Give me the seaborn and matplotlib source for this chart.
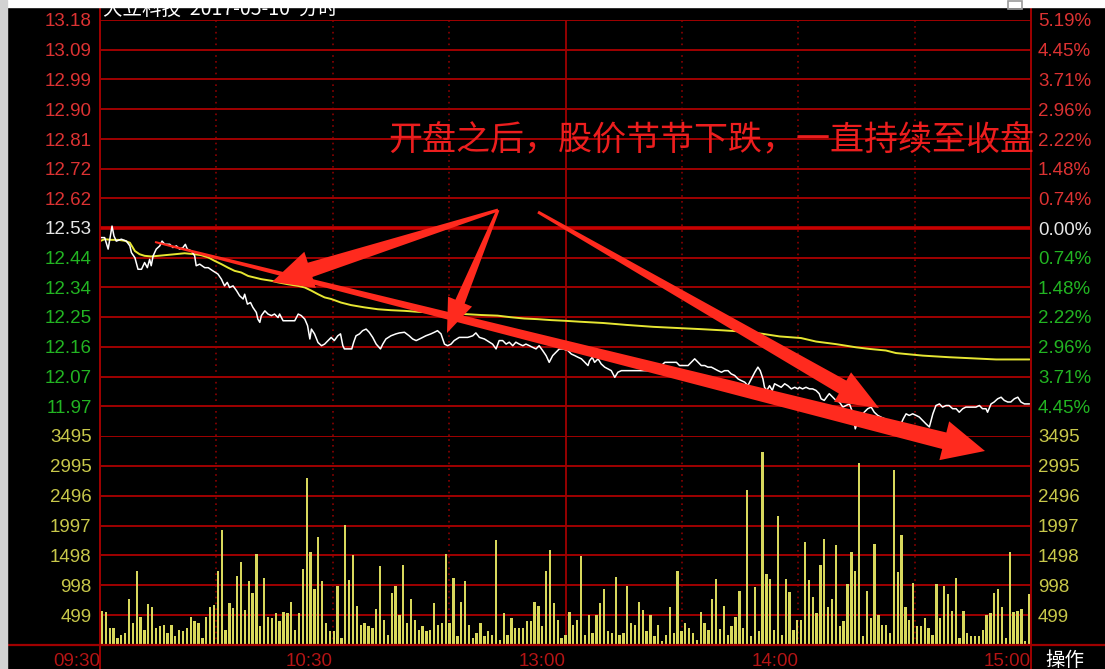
import numpy as np
import pandas as pd
import matplotlib
matplotlib.use("Agg")
import matplotlib.pyplot as plt
import seaborn as sns
from matplotlib.patches import Polygon, Rectangle

# ---------------- data ----------------
prev_close = 12.53

price_time = [0, 1.2, 2.1, 2.8, 3.1, 3.6, 4.2, 5.5, 6.8, 7.7, 8.1, 9.0, 9.8, 10.7, 11.5, 12.2, 12.8, 13.2,
              13.7, 14.5, 15.4, 16.0, 16.7, 18.0, 18.8, 19.7, 20.5, 21.4, 22.0, 22.5, 23.6, 24.4, 24.8, 25.7,
              27.0, 27.9, 29.1, 30.4, 31.3, 32.1, 32.8, 33.4, 34.3, 35.2, 36.0, 36.9, 37.3, 38.0, 38.8, 39.4,
              40.3, 40.7, 41.2, 41.6, 42.5, 43.3, 44.2, 45.0, 45.9, 46.3, 47.2, 50.2, 51.1, 51.9, 52.8, 53.5,
              54.1, 54.5, 55.3, 56.2, 57.1, 57.9, 58.8, 59.6,
              60.4, 61.3, 62.0, 62.6, 63.0, 63.8, 64.9, 65.4, 66.0, 66.9, 67.7, 68.6, 69.4, 70.3, 71.2, 72.3,
              72.9, 73.7, 75.0, 76.3, 77.2, 78.5, 79.7, 80.6, 81.5, 82.7, 84.0, 85.3, 86.2, 87.0, 87.9, 88.8,
              89.6, 90.5, 91.3, 92.6, 93.5, 94.8, 96.1, 96.9, 97.8, 99.1, 100.4, 101.2, 102.1, 102.9, 103.8,
              104.7, 105.5, 106.4, 107.2, 108.1, 109.0, 109.8, 110.7, 111.5, 112.4, 113.2, 114.1, 115.0, 115.8,
              116.7, 117.5, 118.4, 119.3,
              120.6, 121.5, 122.4, 123.2, 124.1, 125.0, 125.8, 126.2, 126.9, 127.5, 128.4, 129.2, 130.1, 131.0,
              131.8, 132.7, 133.5, 134.4, 135.7, 137.4, 139.1, 140.8, 142.1, 143.4, 144.7, 145.6, 146.9, 148.6,
              149.4, 150.7, 151.6, 152.4, 153.3, 154.2, 155.0, 155.9, 156.7, 157.6, 158.5, 159.3, 160.2, 161.0,
              161.9, 162.7, 163.6, 164.5, 165.3, 166.2, 167.0, 167.9, 168.8, 169.6, 170.2, 170.9, 171.3, 171.9,
              172.6, 173.3, 173.9, 174.8, 175.6, 176.5, 177.3, 178.2, 179.1, 179.9,
              180.3, 181.1, 182.0, 182.9, 183.7, 184.6, 185.4, 185.9, 186.7, 187.6, 188.0, 188.9, 189.7, 190.6,
              191.5, 192.3, 193.2, 194.0, 194.7, 195.3, 196.2, 197.0, 197.9, 198.8, 199.6, 200.5, 201.3, 202.2,
              203.0, 203.9, 204.8, 205.6, 206.5, 207.1, 207.8, 208.6, 209.5, 210.4, 211.2, 212.1, 212.9, 213.8,
              214.7, 215.5, 216.4, 217.2, 218.1, 218.9, 219.8, 220.7, 221.5, 222.4, 223.2, 224.1, 225.0, 225.8,
              226.7, 227.5, 228.4, 228.8, 229.7, 230.5, 231.4, 232.3, 233.1, 234.0, 234.8, 235.7, 236.6, 237.4,
              238.3, 239.6]

price_values = [12.500, 12.500, 12.464, 12.515, 12.536, 12.505, 12.489, 12.495, 12.489, 12.474, 12.453, 12.437,
                12.401, 12.401, 12.422, 12.406, 12.432, 12.412, 12.443, 12.464, 12.474, 12.489, 12.479, 12.479,
                12.469, 12.474, 12.464, 12.469, 12.479, 12.464, 12.458, 12.443, 12.412, 12.417, 12.406, 12.406,
                12.396, 12.386, 12.370, 12.349, 12.360, 12.344, 12.349, 12.334, 12.318, 12.308, 12.323, 12.292,
                12.297, 12.282, 12.266, 12.245, 12.235, 12.256, 12.271, 12.261, 12.256, 12.261, 12.250, 12.261,
                12.240, 12.240, 12.261, 12.256, 12.245, 12.225, 12.183, 12.214, 12.199, 12.172, 12.162, 12.167,
                12.178, 12.188,
                12.178, 12.193, 12.199, 12.162, 12.152, 12.152, 12.152, 12.173, 12.193, 12.199, 12.209, 12.214,
                12.204, 12.188, 12.167, 12.152, 12.167, 12.183, 12.193, 12.199, 12.202, 12.204, 12.193, 12.183,
                12.178, 12.185, 12.193, 12.199, 12.204, 12.209, 12.199, 12.167, 12.162, 12.167, 12.178, 12.188,
                12.188, 12.188, 12.193, 12.202, 12.188, 12.183, 12.173, 12.167, 12.152, 12.178, 12.178, 12.167,
                12.173, 12.162, 12.173, 12.167, 12.162, 12.167, 12.162, 12.157, 12.152, 12.162, 12.147, 12.131,
                12.110, 12.131, 12.141, 12.152, 12.152,
                12.147, 12.136, 12.131, 12.126, 12.121, 12.110, 12.100, 12.115, 12.126, 12.110, 12.121, 12.105,
                12.095, 12.089, 12.084, 12.063, 12.079, 12.084, 12.084, 12.084, 12.084, 12.084, 12.084, 12.095,
                12.100, 12.110, 12.110, 12.110, 12.100, 12.100, 12.100, 12.110, 12.121, 12.110, 12.100, 12.100,
                12.095, 12.095, 12.089, 12.084, 12.079, 12.084, 12.084, 12.074, 12.069, 12.058, 12.053, 12.048,
                12.037, 12.058, 12.079, 12.095, 12.084, 12.058, 12.032, 12.022, 12.037, 12.022, 12.043, 12.037,
                12.032, 12.043, 12.037, 12.027, 12.032, 12.027,
                12.032, 12.027, 12.032, 12.027, 12.027, 12.022, 12.012, 11.996, 11.991, 12.006, 12.012, 12.001,
                11.991, 11.986, 11.970, 11.975, 11.980, 11.954, 11.902, 11.923, 11.944, 11.954, 11.965, 11.970,
                11.954, 11.944, 11.939, 11.934, 11.902, 11.885, 11.892, 11.913, 11.918, 11.934, 11.949, 11.944,
                11.949, 11.944, 11.939, 11.928, 11.918, 11.908, 11.949, 11.975, 11.980, 11.970, 11.975, 11.975,
                11.965, 11.965, 11.954, 11.965, 11.970, 11.970, 11.970, 11.970, 11.975, 11.965, 11.965, 11.954,
                11.980, 11.986, 11.996, 12.001, 11.991, 11.986, 11.986, 11.996, 12.001, 11.986, 11.980, 11.980]

avg_time = [0.2, 1.2, 2.9, 4.7, 6.4, 7.7, 9.0, 10.2, 11.5, 13.2, 15.0, 16.7, 19.3, 21.8, 24.4, 26.1, 27.9, 29.6,
            31.3, 33.0, 34.7, 36.4, 38.2, 39.9, 41.6, 44.2, 45.9, 48.5, 51.1, 52.8, 54.5, 56.2, 57.9, 59.6, 62.1,
            64.7, 68.1, 71.6, 75.0, 78.5, 81.9, 85.3, 89.6, 93.9, 98.2, 102.5, 105.9, 109.4, 112.8, 116.3, 119.7,
            123.7, 129.7, 135.7, 142.6, 149.4, 154.6, 160.6, 165.8, 170.9, 175.2, 180.7, 184.6, 189.7, 194.9,
            198.3, 202.6, 205.2, 212.1, 218.9, 224.1, 231.0, 239.6]
avg_values = [12.490, 12.495, 12.493, 12.493, 12.490, 12.484, 12.458, 12.448, 12.443, 12.441, 12.443, 12.445,
              12.448, 12.451, 12.448, 12.445, 12.438, 12.427, 12.417, 12.406, 12.396, 12.391, 12.380, 12.375,
              12.370, 12.365, 12.360, 12.354, 12.349, 12.344, 12.334, 12.323, 12.313, 12.308, 12.297, 12.289,
              12.282, 12.276, 12.273, 12.271, 12.268, 12.266, 12.263, 12.261, 12.258, 12.256, 12.251, 12.247,
              12.245, 12.242, 12.240, 12.237, 12.233, 12.227, 12.221, 12.217, 12.214, 12.210, 12.206, 12.199,
              12.191, 12.186, 12.175, 12.167, 12.157, 12.152, 12.147, 12.139, 12.131, 12.126, 12.123, 12.119,
              12.119]

volume = [575, 550, 280, 280, 115, 170, 200, 770, 365, 1235, 475, 255, 687, 640, 280, 310, 340, 200, 340, 145,
          255, 230, 280, 475, 395, 365, 115, 475, 640, 670, 1235, 1915, 255, 700, 615, 1160, 1380, 590, 1070, 865,
          1530, 310, 1125, 475, 450, 530, 395, 560, 530, 725, 255, 530, 1265, 2800, 1555, 930, 1805, 1070, 365, 230,
          230, 985, 115, 2000, 1095, 1500, 655, 340, 365, 310, 280, 600, 1320, 420, 170, 875, 985, 505, 1345, 365,
          770, 420, 255, 310, 230, 255, 700, 340, 365, 1530, 365, 1125, 145, 725, 1070, 340, 115, 200, 365, 145,
          230, 170, 1750, 90, 530, 170, 450, 280, 280, 280, 395, 395, 725, 655, 310, 1235, 1585, 700, 420, 115, 170,
          560, 340, 420, 1485, 170, 505, 200, 505, 700, 935, 230, 200, 1130, 170, 200, 990, 365, 340, 725, 590,
          230, 505, 145, 340, 60, 170, 640, 200, 1235, 230, 365, 280, 200, 90, 560, 365, 255, 770, 1100, 265,
          655, 170, 310, 475, 910, 280, 2590, 145, 965, 230, 3220, 1180, 1100, 255, 2155, 170, 1100, 880, 255, 420,
          420, 1720, 1095, 800, 530, 1345, 1780, 640, 770, 1670, 310, 395, 1015, 1555, 1235, 3050, 145, 910, 450,
          1695, 505, 340, 340, 200, 2930, 1215, 1845, 630, 420, 1040, 310, 310, 450, 280, 170, 1015, 450, 985, 855,
          575, 1125, 115, 575, 200, 145, 145, 145, 255, 505, 530, 875, 930, 640, 115, 1555, 560, 575, 600, 60, 855]

pct_levels = [5.19, 4.45, 3.71, 2.96, 2.22, 1.48, 0.74, 0.00, -0.74, -1.48, -2.22, -2.96, -3.71, -4.45]
pct_labels = ["5.19%", "4.45%", "3.71%", "2.96%", "2.22%", "1.48%", "0.74%", "0.00%",
              "0.74%", "1.48%", "2.22%", "2.96%", "3.71%", "4.45%"]
price_labels = ["13.18", "13.09", "12.99", "12.90", "12.81", "12.72", "12.62", "12.53",
                "12.44", "12.34", "12.25", "12.16", "12.07", "11.97"]
vol_ticks = [499, 998, 1498, 1997, 2496, 2995, 3495]
vol_labels = ["499", "998", "1498", "1997", "2496", "2995", "3495"]
time_ticks = [0, 60, 120, 180, 240]
time_labels = ["09:30", "10:30", "13:00", "14:00", "15:00"]
grid_minutes = [30, 60, 90, 120, 150, 180, 210]
title_text = "大立科技  2017-05-10  分时"
note_text = "开盘之后，股价节节下跌，一直持续至收盘"
corner_text = "操作"

# ---------------- style ----------------
sns.set_theme(style="dark", rc={"axes.facecolor": "black", "figure.facecolor": "black",
                                "axes.edgecolor": "black"})
plt.rcParams["font.family"] = ["Liberation Sans", "Noto Sans CJK SC", "DejaVu Sans"]

RED_LBL = "#dc3232"
GREEN_LBL = "#22b422"
WHITE_LBL = "#e6e6e6"
YELLOW_LBL = "#c8c84a"
GRID = "#a00000"
ARROW = "#ff2a1e"
LINE_Y = "#e6e632"
BAR_Y = "#d8d85c"

W, H = 1105, 669
fig = plt.figure(figsize=(W / 100, H / 100), dpi=100, facecolor="black")

top_p, bot_p, bot_v = 20, 436, 645
L, R = 100, 1031
ax_p = fig.add_axes([L / W, 1 - bot_p / H, (R - L) / W, (bot_p - top_p) / H])
ax_v = fig.add_axes([L / W, 1 - bot_v / H, (R - L) / W, (bot_v - bot_p) / H])

# price lines
df_price = pd.DataFrame({"minute": price_time, "price": price_values})
df_avg = pd.DataFrame({"minute": avg_time, "price": avg_values})
sns.lineplot(data=df_avg, x="minute", y="price", ax=ax_p, color=LINE_Y, lw=1.4,
             estimator=None, sort=False, zorder=4)
sns.lineplot(data=df_price, x="minute", y="price", ax=ax_p, color="white", lw=1.1,
             estimator=None, sort=False, zorder=5)

# volume bars
bar_pos = np.arange(len(volume)) * 240 / len(volume) + 0.5
df_vol = pd.DataFrame({"minute": bar_pos, "volume": volume})
sns.barplot(data=df_vol, x="minute", y="volume", ax=ax_v, native_scale=True, color=BAR_Y,
            saturation=1, width=0.6, errorbar=None, linewidth=0, zorder=4)

lo, hi = prev_close * (1 - pct_levels[0] / 100), prev_close * (1 + pct_levels[0] / 100)
price_ticks = [prev_close * (1 + p / 100) for p in pct_levels]

for ax in (ax_p, ax_v):
    ax.set_facecolor("black")
    ax.set_xlim(0, 240)
    ax.grid(False)
    for s in ax.spines.values():
        s.set_visible(False)
    ax.set_xlabel("")
    ax.set_ylabel("")
    for m in grid_minutes:
        if m == 120:
            ax.axvline(m, color=GRID, lw=1.3, zorder=1)
        else:
            ax.axvline(m, color="#8c0000", lw=1.2, ls=(0, (1, 2.5)), zorder=1)

ax_p.set_ylim(lo, hi)
ax_v.set_ylim(0, vol_ticks[-1])

for t, p in zip(price_ticks, pct_levels):
    if p == 0:
        ax_p.axhline(t, color="#c80000", lw=2.6, zorder=2)
    else:
        ax_p.axhline(t, color=GRID, lw=1.4, zorder=2)
for v in vol_ticks:
    ax_v.axhline(v, color=GRID, lw=1.4, zorder=2)


def lbl_color(p):
    return RED_LBL if p > 0 else (WHITE_LBL if p == 0 else GREEN_LBL)


tick_font = dict(fontsize=13.5, family="Liberation Sans")
ax_p.set_yticks(price_ticks)
ax_p.set_yticklabels(price_labels, **tick_font)
for lab, p in zip(ax_p.get_yticklabels(), pct_levels):
    lab.set_color(lbl_color(p))
ax_p.tick_params(axis="y", length=0, pad=6)
ax_p.set_xticks([])

ax_p2 = ax_p.twinx()
ax_p2.set_ylim(lo, hi)
ax_p2.set_yticks(price_ticks)
ax_p2.set_yticklabels(pct_labels, **tick_font)
for lab, p in zip(ax_p2.get_yticklabels(), pct_levels):
    lab.set_color(lbl_color(p))
ax_p2.tick_params(axis="y", length=0, pad=5)
ax_p2.grid(False)
for s in ax_p2.spines.values():
    s.set_visible(False)

ax_v.set_yticks(vol_ticks)
ax_v.set_yticklabels(vol_labels, color=YELLOW_LBL, **tick_font)
ax_v.tick_params(axis="y", length=0, pad=6)
ax_v.set_xticks(time_ticks)
ax_v.set_xticklabels(time_labels, color="#b41414", ha="right", **tick_font)
ax_v.tick_params(axis="x", length=0, pad=6)

ax_v2 = ax_v.twinx()
ax_v2.set_ylim(0, vol_ticks[-1])
ax_v2.set_yticks(vol_ticks)
ax_v2.set_yticklabels(vol_labels, color=YELLOW_LBL, **tick_font)
ax_v2.tick_params(axis="y", length=0, pad=5)
ax_v2.grid(False)
for s in ax_v2.spines.values():
    s.set_visible(False)

# ---------------- overlay: frame, annotations ----------------
ov = fig.add_axes([0, 0, 1, 1], zorder=10)
ov.set_xlim(0, W)
ov.set_ylim(H, 0)
ov.axis("off")
ov.patch.set_alpha(0)

ov.plot([L, L], [8, H], color=GRID, lw=1.4)
ov.plot([R, R], [8, H], color=GRID, lw=1.4)
ov.plot([7, W], [bot_v, bot_v], color=GRID, lw=1.6)

ov.text(103, 9, title_text, color="white", fontsize=14, va="center", ha="left",
        family=["Noto Sans CJK SC", "DejaVu Sans"])
ov.add_patch(Rectangle((0, 0), W, 7, color="white", zorder=5))
ov.add_patch(Rectangle((0, 0), 7, H, color="#d2d2d2", zorder=5))
ov.add_patch(Rectangle((1008, 1), 14, 8, fill=False, ec="#9a9a9a", lw=1.2, zorder=6))

ov.text(1065, 660, corner_text, color="white", fontsize=14, ha="center", va="center",
        family=["Noto Sans CJK SC", "DejaVu Sans"])

ov.text(388, 141, note_text, color="#ec1e1e", fontsize=24.5, ha="left", va="center",
        family=["Noto Sans CJK SC", "DejaVu Sans"], zorder=8)


def tapered_arrow(tail, tip, w0, w1, hw, hl):
    t = np.array(tail, float)
    p = np.array(tip, float)
    d = p - t
    d /= np.hypot(*d)
    n = np.array([-d[1], d[0]])
    hb = p - d * hl
    pts = [t + n * w0 / 2, hb + n * w1 / 2, hb + n * hw / 2, p,
           hb - n * hw / 2, hb - n * w1 / 2, t - n * w0 / 2]
    return Polygon(pts, closed=True, fc=ARROW, ec="none", zorder=7)


ov.add_patch(tapered_arrow((498, 210), (272, 282), 3, 15, 38, 40))
ov.add_patch(tapered_arrow((498, 210), (447, 333), 3, 10, 26, 34))
ov.add_patch(tapered_arrow((538, 212), (879, 408), 3, 15, 34, 42))
ov.add_patch(tapered_arrow((155, 242), (985, 451), 2, 17, 40, 42))

fig.savefig("out.png", dpi=100, facecolor="black")
